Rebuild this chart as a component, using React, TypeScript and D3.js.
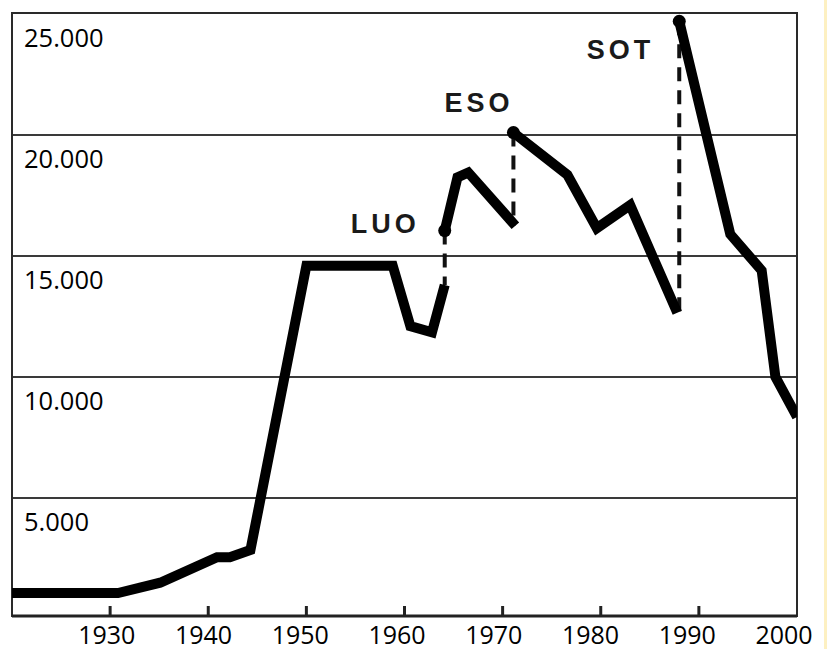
import React from "react";
import * as d3 from "d3";

// Base series (before LUO)
const baseYears = [1920, 1930.8, 1935.1, 1940.9, 1942.2, 1944.3, 1950, 1958.8, 1960.6, 1962.8, 1964.1];
const baseValues = [1070, 1070, 1500, 2550, 2550, 2850, 14600, 14600, 12100, 11850, 13800];

// LUO series
const luoYears = [1964.1, 1965.4, 1966.5, 1971.3];
const luoValues = [16050, 18250, 18450, 16250];

// ESO series
const esoYears = [1971.1, 1976.6, 1979.6, 1983.0, 1987.8];
const esoValues = [20100, 18350, 16150, 17100, 12650];

// SOT series
const sotYears = [1988.0, 1993.2, 1996.4, 1997.8, 2000];
const sotValues = [24700, 15900, 14400, 10000, 8350];

const yTicks = [5000, 10000, 15000, 20000, 25000];
const yTickLabels = ["5.000", "10.000", "15.000", "20.000", "25.000"];
const xTicks = [1930, 1940, 1950, 1960, 1970, 1980, 1990, 2000];

const W = 827;
const H = 649;
const left = 12;
const right = 797;
const top = 13;
const bottom = 616;

const x = d3.scaleLinear().domain([1920, 2000]).range([left, right]);
const xLabel = d3.scaleLinear().domain([1920, 2000]).range([10, 784]);
const y = d3.scaleLinear().domain([0, 25000]).range([619, 14]);

const zip = (ys: number[], vs: number[]) => ys.map((yr, i) => [yr, vs[i]] as [number, number]);

const line = d3
  .line<[number, number]>()
  .x((d) => x(d[0]))
  .y((d) => y(d[1]));

const series = [
  { name: "", data: zip(baseYears, baseValues) },
  { name: "LUO", data: zip(luoYears, luoValues) },
  { name: "ESO", data: zip(esoYears, esoValues) },
  { name: "SOT", data: zip(sotYears, sotValues) },
];

// label offsets relative to the series' first point
const labelOffset: Record<string, [number, number, string]> = {
  LUO: [-25, 2, "end"],
  ESO: [0, -21, "end"],
  SOT: [-25, 38, "end"],
};

const tickFont = "'Open Sans', sans-serif";

export default function App() {
  return (
    <div style={{ position: "fixed", left: 0, top: 0 }}>
      <svg width={W} height={H} style={{ display: "block", background: "#fff" }}>
        <defs>
          <clipPath id="plot">
            <rect x={left} y={top} width={right - left} height={bottom - top} />
          </clipPath>
        </defs>

        {/* right edge strip */}
        <rect x={824} y={0} width={3} height={H} fill="#fdf0c2" />

        {/* grid lines */}
        {yTicks.slice(0, 4).map((v) => (
          <line key={v} x1={left} x2={right} y1={y(v)} y2={y(v)} stroke="#3a3a3a" strokeWidth={2} />
        ))}

        {/* frame */}
        <rect x={left} y={top} width={right - left} height={bottom - top} fill="none" stroke="#2a2a2a" strokeWidth={2} />
        <line x1={left} x2={right} y1={bottom} y2={bottom} stroke="#222" strokeWidth={3} />

        {/* x ticks */}
        {xTicks.slice(0, 7).map((t) => (
          <line key={t} x1={x(t)} x2={x(t)} y1={bottom} y2={bottom - 10} stroke="#222" strokeWidth={3} />
        ))}

        {/* y labels */}
        {yTicks.map((v, i) => (
          <text key={v} x={24} y={y(v) + 33} fontFamily={tickFont} fontSize={25.5} fill="#000">
            {yTickLabels[i]}
          </text>
        ))}

        {/* x labels */}
        {xTicks.map((t) => (
          <text key={t} x={xLabel(t)} y={644} textAnchor="middle" fontFamily={tickFont} fontSize={25} fill="#000">
            {t}
          </text>
        ))}

        <g clipPath="url(#plot)">
          {/* dashed connectors */}
          {series.slice(1).map((s, i) => {
            const prev = series[i].data;
            const first = s.data[0];
            return (
              <line
                key={s.name}
                x1={x(first[0])}
                x2={x(first[0])}
                y1={y(first[1])}
                y2={y(prev[prev.length - 1][1])}
                stroke="#111"
                strokeWidth={4}
                strokeDasharray="14 9"
              />
            );
          })}

          {series.map((s, i) => (
            <path
              key={i}
              d={line(s.data) || ""}
              fill="none"
              stroke="#000"
              strokeWidth={10}
              strokeLinejoin="miter"
              strokeMiterlimit={3}
            />
          ))}

          {series.slice(1).map((s) => (
            <circle key={s.name} cx={x(s.data[0][0])} cy={y(s.data[0][1])} r={6.5} fill="#000" />
          ))}
        </g>

        {series.slice(1).map((s) => {
          const [dx, dy, anchor] = labelOffset[s.name];
          return (
            <text
              key={s.name}
              x={x(s.data[0][0]) + dx}
              y={y(s.data[0][1]) + dy}
              textAnchor={anchor}
              fontFamily="'Liberation Sans', Arial, sans-serif"
              fontWeight="bold"
              fontSize={27}
              letterSpacing={4}
              fill="#1a1a1a"
            >
              {s.name}
            </text>
          );
        })}
      </svg>
    </div>
  );
}
